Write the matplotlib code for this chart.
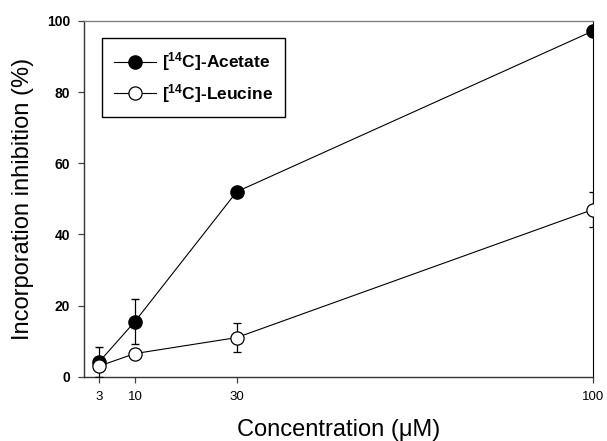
import matplotlib
matplotlib.use("Agg")
import matplotlib.pyplot as plt
from matplotlib.lines import Line2D

plt.rcParams['font.family'] = ['Liberation Sans', 'DejaVu Sans']
plt.rcParams['mathtext.fontset'] = 'custom'
plt.rcParams['mathtext.bf'] = 'Liberation Sans:bold'
plt.rcParams['mathtext.rm'] = 'Liberation Sans'

conc = [3, 10, 30, 100]
acetate = [4.2, 15.5, 52.0, 97.2]
acetate_err = [4.2, 6.3, 0.0, 0.0]
leucine = [3.0, 6.5, 11.0, 47.0]
leucine_err = [0.0, 0.0, 4.0, 5.0]
xticks = [3, 10, 30, 100]
yticks = [0, 20, 40, 60, 80, 100]
labels = [r'[$\mathbf{^{14}}$C]-Acetate', r'[$\mathbf{^{14}}$C]-Leucine']

fig = plt.figure(figsize=(6.07, 4.41), dpi=100)
ax = fig.add_axes([84/607, 1-376.7/441, (593-84)/607, (376.7-21)/441])

ax.errorbar(conc, acetate, yerr=acetate_err, color='black', lw=0.8,
            marker='o', ms=9.5, mfc='black', mec='black', mew=1,
            capsize=3, elinewidth=0.9, capthick=0.9, zorder=3)
ax.errorbar(conc, leucine, yerr=leucine_err, color='black', lw=0.8,
            marker='o', ms=9.5, mfc='white', mec='black', mew=0.9,
            capsize=3, elinewidth=0.9, capthick=0.9, zorder=4)

ax.set_xlim(0, 100)
ax.set_ylim(0, 100)
ax.set_xticks(xticks)
ax.set_xticklabels([str(t) for t in xticks], fontsize=9.5)
ax.set_yticks(yticks)
ax.set_yticklabels([str(t) for t in yticks], fontsize=10, fontweight='bold')
ax.tick_params(axis='both', direction='out', length=4, width=0.9, color='#444444')
ax.tick_params(axis='x', pad=6)
ax.tick_params(axis='y', pad=6)

for s in ['left', 'bottom']:
    ax.spines[s].set_color('#333333')
    ax.spines[s].set_linewidth(1.0)
ax.spines['top'].set_color('#808080')
ax.spines['top'].set_linewidth(1.0)
ax.spines['right'].set_color('black')
ax.spines['right'].set_linewidth(0.8)

ax.set_xlabel('Concentration (μM)', fontsize=17, labelpad=12)
ax.set_ylabel('Incorporation inhibition (%)', fontsize=17, labelpad=9)

handles = [
    Line2D([], [], color='black', lw=0.8, marker='o', ms=9.5, mfc='black', mec='black'),
    Line2D([], [], color='black', lw=0.8, marker='o', ms=9.5, mfc='white', mec='black', mew=0.9),
]
leg = ax.legend(handles, labels, loc='upper left',
                bbox_to_anchor=((101.7-84)/509, 1-(38.3-21)/355.7),
                frameon=True, fancybox=False, edgecolor='black', framealpha=1,
                prop={'weight': 'bold', 'size': 12.5}, handlelength=2.4,
                borderaxespad=0, borderpad=0.7, labelspacing=0.5, handletextpad=0.35)
leg.get_frame().set_linewidth(1.0)

fig.savefig('out.png', dpi=100)
